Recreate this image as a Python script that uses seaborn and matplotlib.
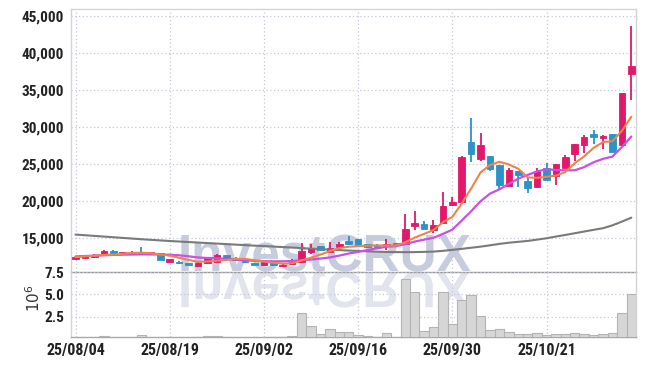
import numpy as np
import pandas as pd
import matplotlib
matplotlib.use("Agg")
import matplotlib.pyplot as plt
import seaborn as sns
from matplotlib import font_manager as fm
from matplotlib.textpath import TextPath
from matplotlib.patches import PathPatch
from matplotlib.font_manager import FontProperties
import matplotlib.transforms as mtransforms

# ---------------- data ----------------
holidays = ["2025-08-15", "2025-10-03", "2025-10-06", "2025-10-07", "2025-10-08", "2025-10-09"]
dates = [d for d in pd.bdate_range("2025-08-04", "2025-11-03") if d.strftime("%Y-%m-%d") not in holidays]

open_ = [12150, 12400, 12450, 12800, 13300, 12950, 12950, 13050, 12950, 13000,
         11850, 11850, 11650, 11300, 11600, 11800, 12750, 12350, 12050, 11650,
         11350, 11700, 11250, 11500, 11800, 13200, 13950, 13150, 13850, 14680,
         14900, 14200, 13950, 13900, 14250, 14200, 16700, 16950, 16150, 17100,
         19450, 19900, 28000, 25750, 26100, 24900, 22100, 24100, 22750, 21950,
         24550, 23350, 24550, 26450, 27600, 29100, 28500, 29100, 27550, 37250]
high = [12500, 12500, 12850, 13450, 13430, 13150, 13300, 13830, 13050, 13050,
        12250, 11950, 11700, 11750, 12400, 12930, 12800, 12450, 12100, 11700,
        11900, 11750, 11550, 12150, 14400, 14280, 14000, 14450, 14460, 15270,
        14950, 14250, 14250, 14860, 14300, 18300, 18690, 17340, 17480, 21200,
        20630, 26100, 31250, 29200, 26150, 24950, 24500, 24150, 23330, 24550,
        25140, 25050, 26260, 27800, 28930, 29600, 28900, 29150, 34700, 43750]
low = [12000, 12350, 12400, 12750, 12900, 12900, 12900, 12850, 12900, 12050,
       11800, 11550, 11400, 11250, 11550, 11750, 12100, 12050, 11700, 11400,
       11300, 11300, 11150, 11450, 11600, 12880, 13400, 13100, 13800, 14150,
       14100, 13750, 13650, 13430, 14100, 14100, 16130, 16250, 15680, 17000,
       19400, 19850, 25300, 25450, 24060, 21500, 22050, 21900, 21090, 21760,
       22850, 22150, 24500, 25450, 26530, 27750, 27070, 26600, 27500, 33650]
close = [12420, 12450, 12800, 13300, 12950, 13050, 13050, 12900, 12980, 12100,
         12200, 11650, 11450, 11700, 12300, 12750, 12150, 12100, 11750, 11450,
         11850, 11330, 11450, 12080, 13330, 13730, 13450, 13650, 14250, 14190,
         14150, 13800, 13800, 14200, 14150, 16300, 17000, 16300, 16800, 19400,
         19950, 26050, 26450, 27650, 24400, 22150, 24250, 23550, 21800, 24100,
         22900, 25000, 26000, 27750, 28700, 28700, 28850, 26650, 34650, 38300]
volume_m = [0.10, 0.10, 0.10, 0.33, 0.10, 0.10, 0.12, 0.43, 0.10, 0.10,
            0.10, 0.10, 0.10, 0.20, 0.35, 0.35, 0.25, 0.15, 0.10, 0.10,
            0.15, 0.20, 0.20, 0.35, 2.90, 1.45, 0.55, 1.08, 0.74, 0.74,
            0.40, 0.30, 0.20, 0.63, 0.15, 6.80, 5.25, 0.86, 1.30, 5.25,
            1.64, 4.35, 4.94, 2.58, 0.97, 1.08, 0.74, 0.52, 0.52, 0.63,
            0.40, 0.52, 0.52, 0.63, 0.52, 0.40, 0.52, 0.63, 2.88, 5.02]
ma5 = [12450, 12550, 12650, 12750, 12784, 12910, 13030, 13050, 12986, 12816,
       12646, 12366, 12076, 11820, 11860, 11970, 12070, 12200, 12210, 12040,
       11860, 11696, 11566, 11632, 12008, 12384, 12808, 13248, 13682, 13854,
       13938, 14008, 14038, 14028, 14020, 14450, 15090, 15590, 16110, 17160,
       17890, 19700, 21730, 23900, 24900, 25340, 24980, 24400, 23230, 23170,
       23320, 23470, 23960, 25150, 26070, 27230, 28000, 28130, 29510, 31430]
ma10 = [12550, 12600, 12650, 12700, 12750, 12780, 12800, 12820, 12810, 12800,
        12778, 12698, 12563, 12403, 12338, 12308, 12218, 12138, 12015, 11950,
        11915, 11883, 11883, 11921, 12024, 12122, 12252, 12407, 12657, 12931,
        13161, 13408, 13643, 13855, 13937, 14194, 14549, 14814, 15069, 15590,
        16170, 17395, 18660, 20005, 21030, 21615, 22340, 23065, 23565, 24035,
        24330, 24225, 24180, 24190, 24620, 25275, 25735, 26045, 27330, 28750]
ma_long = [15500, 15410, 15320, 15230, 15140, 15050, 14960, 14870, 14790, 14710,
           14630, 14560, 14490, 14420, 14350, 14280, 14210, 14140, 14070, 14000,
           13950, 13880, 13810, 13740, 13670, 13600, 13530, 13460, 13400, 13340,
           13290, 13240, 13190, 13150, 13130, 13120, 13130, 13160, 13200, 13300,
           13430, 13570, 13720, 13870, 14050, 14240, 14400, 14520, 14640, 14820,
           15000, 15230, 15450, 15680, 15910, 16140, 16360, 16750, 17250, 17790]

tick_labels = ["25/08/04", "25/08/19", "25/09/02", "25/09/16", "25/09/30", "25/10/21"]
price_ticks = [15000, 20000, 25000, 30000, 35000, 40000, 45000]
vol_ticks = [2.5, 5.0, 7.5]
watermark = "InvestCRUX"

# ---------------- style ----------------
sns.set_theme(style="white")
avail = {f.name for f in fm.fontManager.ttflist}
tick_font = next((f for f in ["Liberation Sans Narrow", "Roboto Condensed", "DejaVu Sans"] if f in avail), "DejaVu Sans")
plt.rcParams['font.family'] = [tick_font, 'DejaVu Sans']

RED = "#e2186b"
BLUE = "#2b93c6"
ORANGE = "#f0824a"
PURPLE = "#c94fe6"
GRAY = "#7a7a7a"
GRID = "#c6c9d9"
SPINE = "#d3d3d3"

W, H = 645, 366
fig = plt.figure(figsize=(W / 100, H / 100), dpi=100)
fig.patch.set_facecolor("white")
L, R = 71.3 / W, 636 / W
ax = fig.add_axes([L, 1 - 272.3 / H, R - L, (272.3 - 9.3) / H])
axv = fig.add_axes([L, 1 - 337.3 / H, R - L, (337.3 - 272.3) / H], sharex=ax)
for a in (ax, axv):
    a.set_facecolor("none")

x = np.arange(len(dates))
o = np.array(open_, float); c = np.array(close, float)
h = np.array(high, float); l = np.array(low, float)
date_str = [d.strftime("%y/%m/%d") for d in dates]
tick_pos = [date_str.index(t) for t in tick_labels]

# candles
up = c >= o
cols = np.where(up, RED, BLUE)
ax.vlines(x, l, h, colors=cols, linewidth=1.3, zorder=3)
body_bot = np.minimum(o, c)
body_h = np.maximum(np.abs(c - o), 200)
ax.bar(x, body_h, bottom=body_bot, width=0.7, color=cols, edgecolor=cols,
       linewidth=0.6, zorder=4)

# moving averages
df = pd.DataFrame({"x": x, "ma5": ma5, "ma10": ma10, "ma_long": ma_long})
sns.lineplot(data=df, x="x", y="ma_long", color=GRAY, linewidth=1.5, ax=ax, zorder=5)
sns.lineplot(data=df, x="x", y="ma10", color=PURPLE, linewidth=1.6, ax=ax, zorder=6)
sns.lineplot(data=df, x="x", y="ma5", color=ORANGE, linewidth=1.5, ax=ax, zorder=7)

# volume
axv.bar(x, volume_m, width=1.0, color="#d6d6d6", edgecolor="#b3b3b3", linewidth=0.8, zorder=3)

# axes
ax.set_xlim(-0.45, 59.5)
ax.set_ylim(10400, 45950)
axv.set_ylim(0.18, 7.5)
ax.set_xlabel(""); ax.set_ylabel("")
ax.set_yticks(price_ticks)
ax.set_yticklabels([f"{v:,}" for v in price_ticks])
axv.set_yticks(vol_ticks)
axv.set_yticklabels([f"{v:.1f}" for v in vol_ticks])
axv.set_xticks(tick_pos)
axv.set_xticklabels(tick_labels)
plt.setp(ax.get_xticklabels(), visible=False)

for a in (ax, axv):
    a.grid(True, color=GRID, linestyle=(0, (1, 2)), linewidth=0.9)
    a.set_axisbelow(True)
    a.tick_params(axis="both", length=0, pad=5, colors="#222222", labelsize=11)
    for s in a.spines.values():
        s.set_color(SPINE)
        s.set_linewidth(1.0)
    for lab in a.get_yticklabels():
        lab.set_fontweight("bold")
ax.spines["bottom"].set_color("#9a9a9a")
axv.spines["top"].set_visible(False)
axv.spines["bottom"].set_color("#a8a8a8")
for lab in axv.get_xticklabels():
    lab.set_fontweight("bold")
    lab.set_fontsize(11.5)
axv.tick_params(axis="x", pad=4)

axv.set_ylabel("$10^6$", fontsize=11, color="#333333", rotation=90)
axv.yaxis.set_label_coords(-0.05, 0.6)

# watermark (behind the axes)
wm_x, wm_base = 178, H - 272
fig.text(wm_x / W, wm_base / H, watermark, fontsize=37, fontweight="bold",
         family=["Liberation Sans", "DejaVu Sans"], color="#c6cbde",
         ha="left", va="baseline", zorder=-1)
tp = TextPath((0, 0), watermark, size=51,
              prop=FontProperties(family=["Liberation Sans", "DejaVu Sans"], weight="bold"))
refl = PathPatch(tp, facecolor="#e1e4ed", edgecolor="none", zorder=-2,
                 transform=mtransforms.Affine2D().scale(1, -1).translate(wm_x, wm_base))
refl.set_figure(fig)
fig.patches.append(refl)

fig.savefig("out.png", dpi=100, facecolor="white")
